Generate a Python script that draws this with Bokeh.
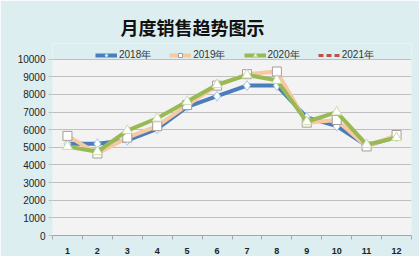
from bokeh.plotting import figure
from bokeh.models import (ColumnDataSource, Legend, LegendItem, FixedTicker,
                          Title, Range1d, BoxAnnotation)
from bokeh.embed import file_html
from bokeh.resources import INLINE

nan = float("nan")
months = [1, 2, 3, 4, 5, 6, 7, 8, 9, 10, 11, 12]
month_labels = ["1", "2", "3", "4", "5", "6", "7", "8", "9", "10", "11", "12"]
s2018 = [5200, 5200, 5400, 6050, 7300, 7900, 8500, 8500, 6700, 6200, 5100, 5600]
s2019 = [5650, 4650, 5550, 6200, 7400, 8500, 9150, 9300, 6400, 6550, 5050, 5700]
s2020 = [5050, 4750, 5950, 6650, 7600, 8550, 9100, 8800, 6450, 7000, 5150, 5550]
s2021 = [nan, nan, nan, nan, nan, nan, nan, nan, nan, nan, nan, nan]
y_ticks = [0, 1000, 2000, 3000, 4000, 5000, 6000, 7000, 8000, 9000, 10000]

BG = "#DDEEF0"
# frame spans 196 px; the 0..10000 plot area is 180 px of it
y_end = y_ticks[-1] * 196 / 180

p = figure(width=419, height=256, output_backend="svg", toolbar_location=None,
           x_range=Range1d(0.5, 12.5), y_range=Range1d(0, y_end),
           min_border_left=52, min_border_right=8, min_border_top=43,
           min_border_bottom=17)
p.background_fill_color = BG
p.border_fill_color = BG
p.outline_line_color = None

p.add_layout(BoxAnnotation(bottom=y_ticks[0], top=y_ticks[-1], level="image",
                           fill_color="#F3F3F3", fill_alpha=1,
                           line_color=None))

p.title = Title(text="月度销售趋势图示", align="left",
                text_font="Noto Sans CJK SC", text_font_size="18px",
                text_font_style="bold", text_color="#111111", offset=68,
                standoff=8)

src = ColumnDataSource(dict(x=months, a=s2018, b=s2019, c=s2020, d=s2021))

l18 = p.line("x", "a", source=src, line_color="#4A7EBB", line_width=4)
m18 = p.scatter("x", "a", source=src, marker="diamond", size=10,
                fill_color="white", line_color="#A9C8E6", line_width=1)
l19 = p.line("x", "b", source=src, line_color="#F6C9A0", line_width=4)
m19 = p.scatter("x", "b", source=src, marker="square", size=9,
                fill_color="white", line_color="#A89A98", line_width=1)
l20 = p.line("x", "c", source=src, line_color="#98B954", line_width=4)
m20 = p.scatter("x", "c", source=src, marker="triangle", size=10,
                fill_color="white", line_color="#C9DDA6", line_width=1)
l21 = p.line("x", "d", source=src, line_color="#C0504D", line_width=3,
             line_dash="5 3")

legend = Legend(items=[
    LegendItem(label="2018年", renderers=[l18, m18]),
    LegendItem(label="2019年", renderers=[l19, m19]),
    LegendItem(label="2020年", renderers=[l20, m20]),
    LegendItem(label="2021年", renderers=[l21]),
], orientation="horizontal", location=(43, 173),
    background_fill_alpha=0, border_line_color=None,
    label_text_font="Liberation Sans", label_text_font_size="10px",
    label_text_color="#333333", glyph_width=22, glyph_height=10,
    label_standoff=2, spacing=18, padding=0, margin=0, label_height=10)
p.add_layout(legend, "center")

p.yaxis.ticker = FixedTicker(ticks=y_ticks)
p.yaxis.major_label_text_font = "Liberation Sans"
p.yaxis.major_label_text_font_size = "10px"
p.yaxis.major_label_text_color = "#222222"
p.yaxis.axis_line_color = None
p.yaxis.major_tick_line_color = "#BFBFBF"
p.yaxis.major_tick_out = 4
p.yaxis.major_tick_in = 0
p.yaxis.minor_tick_line_color = None
p.yaxis.major_label_standoff = 3

p.xaxis.ticker = FixedTicker(ticks=months,
                             minor_ticks=[m - 0.5 for m in months] + [12.5])
p.xaxis.major_label_overrides = {m: lab for m, lab in zip(months, month_labels)}
p.xaxis.major_label_text_font = "Liberation Sans"
p.xaxis.major_label_text_font_size = "9px"
p.xaxis.major_label_text_font_style = "bold"
p.xaxis.major_label_text_color = "#222222"
p.xaxis.axis_line_color = "#A6A6A6"
p.xaxis.major_tick_line_color = None
p.xaxis.minor_tick_line_color = "#A6A6A6"
p.xaxis.minor_tick_out = 4
p.xaxis.minor_tick_in = 0
p.xaxis.major_label_standoff = 6

p.xgrid.grid_line_color = None
p.ygrid.grid_line_color = "#BFBFBF"
p.ygrid.grid_line_width = 1

open("out.html", "w").write(file_html(p, INLINE))
